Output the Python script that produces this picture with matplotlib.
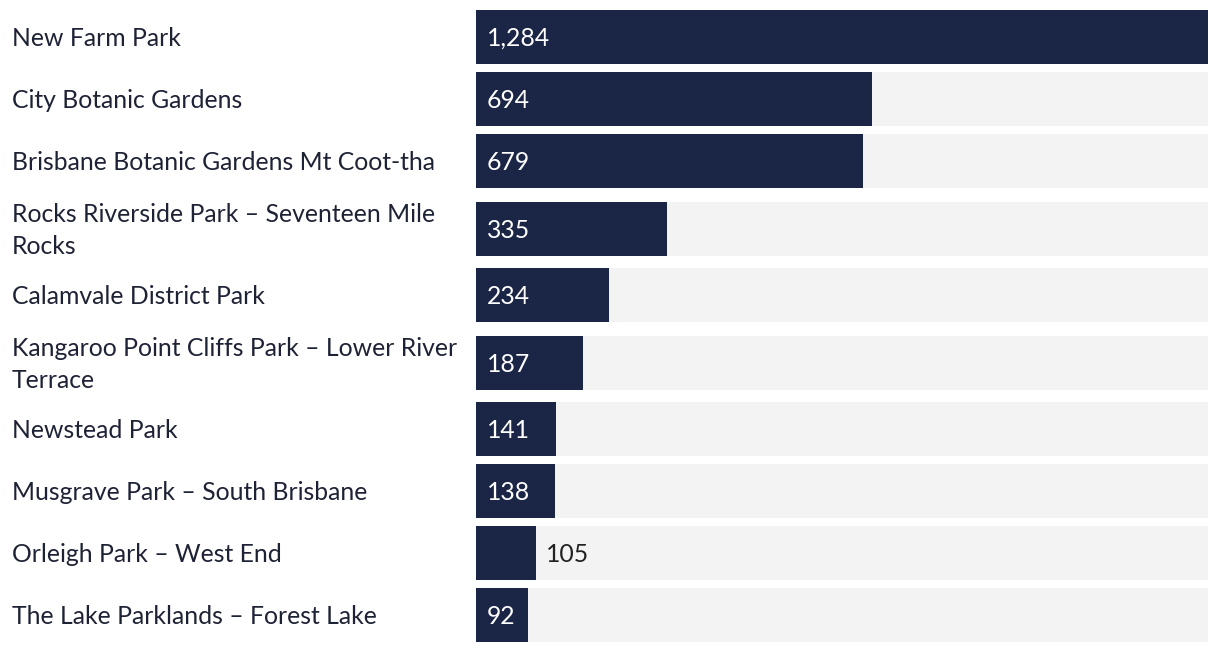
import matplotlib
matplotlib.use("Agg")
import matplotlib.pyplot as plt
from matplotlib.transforms import blended_transform_factory

categories = [
    "New Farm Park",
    "City Botanic Gardens",
    "Brisbane Botanic Gardens Mt Coot-tha",
    "Rocks Riverside Park – Seventeen Mile\nRocks",
    "Calamvale District Park",
    "Kangaroo Point Cliffs Park – Lower River\nTerrace",
    "Newstead Park",
    "Musgrave Park – South Brisbane",
    "Orleigh Park – West End",
    "The Lake Parklands – Forest Lake",
]
values = [1284, 694, 679, 335, 234, 187, 141, 138, 105, 92]
value_labels = ["1,284", "694", "679", "335", "234", "187", "141", "138", "105", "92"]
outside_labels = {"Orleigh Park – West End"}

W, H, DPI = 1220, 652, 100
NAVY = "#1b2647"
TRACK = "#f3f3f3"
TEXT = "#1e2235"
FONT = "Lato"
FS = 17.8

fig = plt.figure(figsize=(W / DPI, H / DPI), dpi=DPI)
x0, x1 = 476, 1208
ax = fig.add_axes([x0 / W, 0, (x1 - x0) / W, 1])
ax.set_xlim(0, max(values))
ax.set_ylim(H, 0)
ax.axis("off")

# row centres in pixel rows, depending on label line count
centres = []
c = 37.0
prev_extra_after = 0
for i, cat in enumerate(categories):
    two = "\n" in cat
    if i > 0:
        c += 62 + prev_extra_after + (6 if two else 0)
    centres.append(c)
    prev_extra_after = 4 if two else 0

bar_h = 54
ax.barh(centres, [max(values)] * len(values), height=bar_h, color=TRACK, left=0)
ax.barh(centres, values, height=bar_h, color=NAVY, left=0)

lab_tr = blended_transform_factory(fig.transFigure, ax.transData)
for cat, v, vl, y in zip(categories, values, value_labels, centres):
    ax.text(12 / W, y + 1.5, cat, transform=lab_tr, ha="left", va="center",
            fontsize=FS, family=FONT, color=TEXT, linespacing=1.45)
    if cat in outside_labels:
        ax.annotate(vl, (v, y), xytext=(10, -1.5), textcoords="offset pixels",
                    ha="left", va="center", fontsize=FS, family=FONT, color="#222222")
    else:
        ax.annotate(vl, (0, y), xytext=(11, -1.5), textcoords="offset pixels",
                    ha="left", va="center", fontsize=FS, family=FONT, color="white")

fig.savefig("out.png", dpi=DPI)
